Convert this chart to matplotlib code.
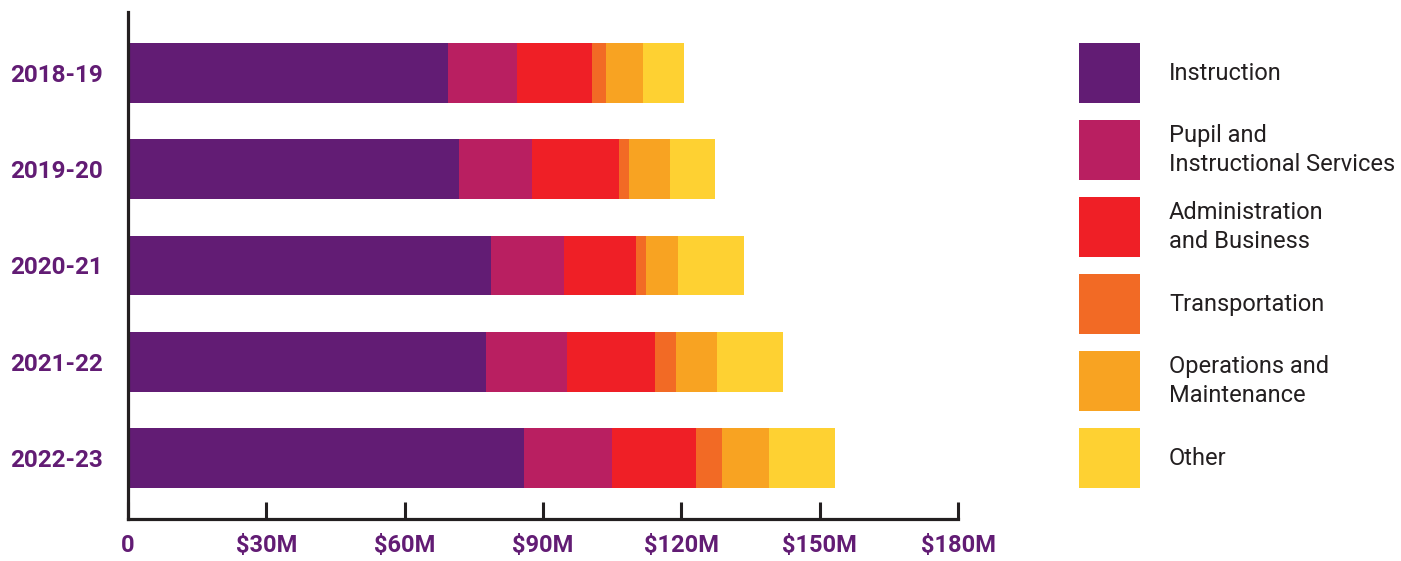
import matplotlib
matplotlib.use('Agg')
import matplotlib.pyplot as plt
from matplotlib.patches import Rectangle
import numpy as np

plt.rcParams['font.family'] = ['Roboto', 'DejaVu Sans']

# Data (in $M)
years = ['2018-19', '2019-20', '2020-21', '2021-22', '2022-23']
categories = ['Instruction', 'Pupil and\nInstructional Services', 'Administration\nand Business',
              'Transportation', 'Operations and\nMaintenance', 'Other']
instruction = [69.4, 71.8, 78.7, 77.7, 85.9]
pupil = [15.0, 15.8, 15.8, 17.5, 19.0]
admin = [16.2, 18.9, 15.6, 19.1, 18.3]
transport = [3.0, 2.1, 2.2, 4.5, 5.6]
operations = [8.1, 8.9, 6.9, 8.9, 10.2]
other = [8.9, 9.8, 14.3, 14.3, 14.3]
xticks = [0, 30, 60, 90, 120, 150, 180]
xticklabels = ['0', '$30M', '$60M', '$90M', '$120M', '$150M', '$180M']

colors = ['#621c74', '#b91f61', '#ef1f26', '#f26a25', '#f8a322', '#fed132']
purple = '#621c74'
dark = '#231f20'

W, H = 1401, 561
fig = plt.figure(figsize=(W / 100, H / 100), dpi=100)
ax = fig.add_axes([128 / W, 1 - 519 / H, 830 / W, 507 / H])

series = [instruction, pupil, admin, transport, operations, other]
y = np.arange(len(years))
left = np.zeros(len(years))
for vals, c in zip(series, colors):
    ax.barh(y, vals, left=left, height=0.623, color=c, edgecolor='none')
    left += np.array(vals)

ax.set_xlim(0, 180)
ax.set_ylim(4.634, -0.634)
ax.set_yticks(y)
ax.set_yticklabels(years, fontsize=17.5, fontweight='bold', color=purple)
ax.set_xticks(xticks)
ax.set_xticklabels(xticklabels, fontsize=17, fontweight='bold', color=purple)
ax.tick_params(axis='y', length=0, pad=18)
ax.tick_params(axis='x', direction='in', length=12, width=2.2, color=dark, pad=11)
for s in ['top', 'right']:
    ax.spines[s].set_visible(False)
for s in ['left', 'bottom']:
    ax.spines[s].set_linewidth(2.3)
    ax.spines[s].set_color(dark)

# legend drawn in pixel space
lax = fig.add_axes([0, 0, 1, 1])
lax.set_xlim(0, W)
lax.set_ylim(H, 0)
lax.axis('off')
for i, (lab, c) in enumerate(zip(categories, colors)):
    top = 43 + i * 77
    lax.add_patch(Rectangle((1079, top), 61, 60, color=c, linewidth=0))
    lax.text(1169, top + 30, lab, fontsize=17, color=dark, va='center', ha='left',
             linespacing=1.3)

fig.savefig('out.png', dpi=100)
